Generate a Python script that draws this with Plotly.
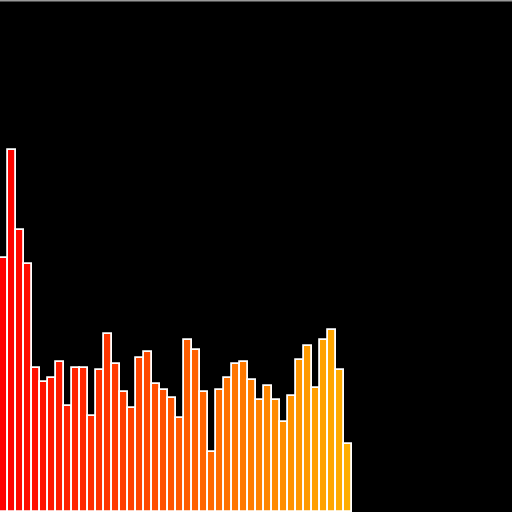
import plotly.graph_objects as go

# bar heights (arbitrary units)
values = [254, 362, 282, 248, 144, 130, 134, 150, 106, 144, 144, 96, 142, 178, 148,
          120, 104, 154, 160, 128, 122, 114, 94, 172, 162, 120, 60, 122, 134, 148,
          150, 132, 112, 126, 112, 90, 116, 152, 166, 124, 172, 182, 142, 68]
categories = list(range(len(values)))

fig = go.Figure(go.Bar(
    x=categories,
    y=values,
    marker=dict(
        color=categories,
        colorscale=[[0, "#ff0000"], [1, "#ffff00"]],
        cmin=0, cmax=63,
        line=dict(color="white", width=1.8),
    ),
    showlegend=False,
))

fig.update_layout(
    width=512, height=512,
    margin=dict(l=0, r=0, t=0, b=0),
    paper_bgcolor="black",
    plot_bgcolor="black",
    bargap=0,
    xaxis=dict(range=[-0.5, 63.5], visible=False),
    yaxis=dict(range=[0, 512], visible=False),
    shapes=[dict(type="line", xref="paper", yref="paper", x0=0, x1=1, y0=1, y1=1,
                 line=dict(color="#999999", width=3))],
)

fig.write_html(
    "out.html",
    config={"displayModeBar": False},
    post_script="document.body.style.margin='0';document.body.style.background='black';"
                "document.body.style.overflow='hidden';",
)
